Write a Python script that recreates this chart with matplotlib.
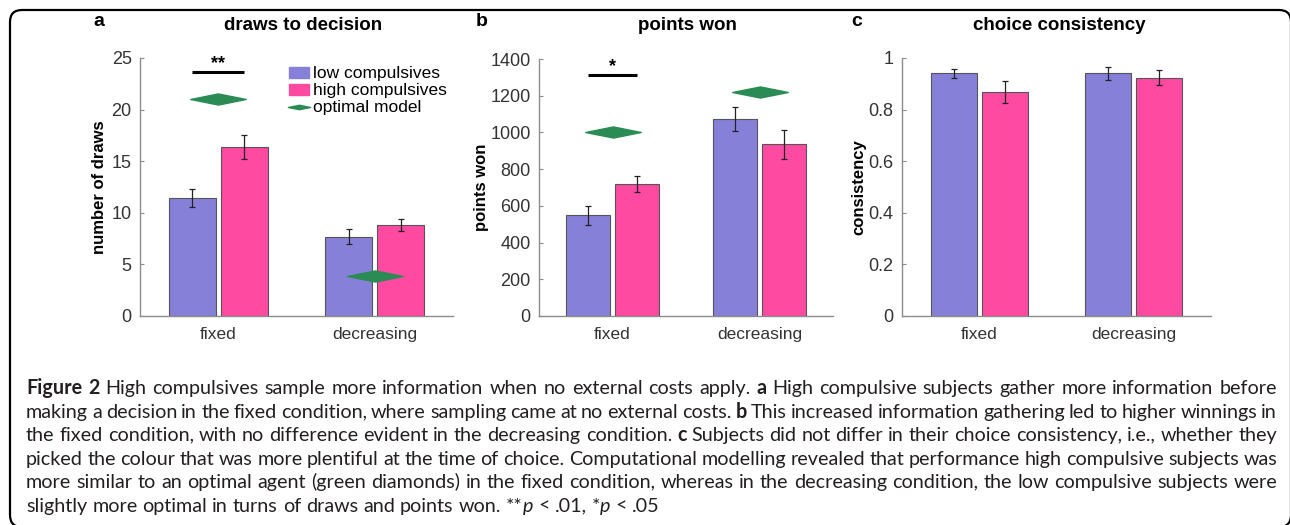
import numpy as np
import matplotlib
matplotlib.use("Agg")
import matplotlib.pyplot as plt
from matplotlib.patches import Patch, FancyBboxPatch
from matplotlib.lines import Line2D
from matplotlib.path import Path
from matplotlib.transforms import IdentityTransform

plt.rcParams['font.family'] = ['Liberation Sans', 'DejaVu Sans']

# ---- data ----
conditions = ["fixed", "decreasing"]
groups = ["low compulsives", "high compulsives", "optimal model"]

draws_low = [11.4, 7.7]
draws_low_err = [0.88, 0.72]
draws_high = [16.4, 8.85]
draws_high_err = [1.15, 0.58]
draws_opt = [21.0, 3.9]

points_low = [548, 1073]
points_low_err = [50, 65]
points_high = [720, 935]
points_high_err = [43, 78]
points_opt = [1000, 1218]

consist_low = [0.94, 0.94]
consist_low_err = [0.019, 0.027]
consist_high = [0.868, 0.924]
consist_high_err = [0.044, 0.030]

c_low = "#8780d9"
c_high = "#ff4aa2"
c_opt = "#2a8b55"
c_axis = "#8c8c8c"

W, H = 1290, 525
fig = plt.figure(figsize=(W / 100, H / 100), dpi=100)


def px_axes(x0, x1, y0, y1):
    return fig.add_axes([x0 / W, 1 - y1 / H, (x1 - x0) / W, (y1 - y0) / H])


diamond = Path([(-1, 0), (0, 0.2), (1, 0), (0, -0.2), (-1, 0)],
               [Path.MOVETO, Path.LINETO, Path.LINETO, Path.LINETO, Path.CLOSEPOLY])


def panel(ax, low, low_err, high, high_err, ylim, yticks, yticklabels,
          ylabel, label_x, opt=None, sig=None):
    x = np.arange(1, len(conditions) + 1)
    off, bw = 0.165, 0.30
    ax.bar(x - off, low, bw, color=c_low, edgecolor="#555555", lw=0.8, zorder=2)
    ax.bar(x + off, high, bw, color=c_high, edgecolor="#555555", lw=0.8, zorder=2)
    for xx, v, e in ((x - off, low, low_err), (x + off, high, high_err)):
        ax.errorbar(xx, v, yerr=e, fmt="none", ecolor="#222222", elinewidth=0.9,
                    capsize=2, capthick=0.9, zorder=3)
    if opt is not None:
        ax.plot(x, opt, ls="none", marker=diamond, ms=40, color=c_opt,
                mec=c_opt, zorder=4)
    if sig is not None:
        yline, stars, ystar = sig
        ax.plot([x[0] - off, x[0] + off], [yline, yline], color="black", lw=2.2,
                solid_capstyle="butt", zorder=4)
        ax.text(x[0], ystar, stars, ha="center", va="center", fontsize=13,
                fontweight="bold")
    ax.set_xlim(0.5, 2.5)
    ax.set_ylim(*ylim)
    ax.set_yticks(yticks)
    ax.set_yticklabels(yticklabels)
    ax.set_xticks(x)
    ax.set_xticklabels(conditions)
    for s in ("top", "right"):
        ax.spines[s].set_visible(False)
    for s in ("left", "bottom"):
        ax.spines[s].set_color(c_axis)
        ax.spines[s].set_linewidth(1.0)
    ax.tick_params(axis="y", direction="in", length=3, color=c_axis,
                   labelcolor="#333333", labelsize=13, pad=6)
    ax.tick_params(axis="x", length=0, labelcolor="#333333", labelsize=12.5, pad=8)
    ax.set_ylabel(ylabel, fontsize=12, fontweight="bold")
    ax.yaxis.set_label_coords(label_x, 0.5)


# panel a
ax_a = px_axes(140, 453, 58, 316)
panel(ax_a, draws_low, draws_low_err, draws_high, draws_high_err, (0, 25),
      [0, 5, 10, 15, 20, 25], ["0", "5", "10", "15", "20", "25"],
      "number of draws", -0.105, opt=draws_opt, sig=(23.6, "**", 24.5))
handles = [Patch(facecolor=c_low, edgecolor=c_low),
           Patch(facecolor=c_high, edgecolor=c_high),
           Line2D([], [], ls="none", marker=diamond, ms=16, color=c_opt)]
ax_a.legend(handles, groups, loc="upper left", bbox_to_anchor=(0.475, 0.968),
            frameon=False, fontsize=12.5, handlelength=1.15, handleheight=0.6,
            handletextpad=0.25, labelspacing=0.12, borderpad=0, borderaxespad=0)

# panel b
ax_b = px_axes(539, 833, 59, 316)
panel(ax_b, points_low, points_low_err, points_high, points_high_err, (0, 1400),
      np.arange(0, 1401, 200), [str(v) for v in range(0, 1401, 200)],
      "points won", -0.17, opt=points_opt, sig=(1312, "*", 1360))

# panel c
ax_c = px_axes(902, 1211, 58, 316)
panel(ax_c, consist_low, consist_low_err, consist_high, consist_high_err, (0, 1),
      [0, 0.2, 0.4, 0.6, 0.8, 1], ["0", "0.2", "0.4", "0.6", "0.8", "1"],
      "consistency", -0.115)

# titles and panel letters
for xc, title in ((303, "draws to decision"), (687, "points won"), (1059, "choice consistency")):
    fig.text(xc / W, 1 - 25 / H, title, ha="center", va="center", fontsize=13.5,
             fontweight="bold")
for xc, letter in ((99, "a"), (482, "b"), (857, "c")):
    fig.text(xc / W, 1 - 21 / H, letter, ha="center", va="center", fontsize=14,
             fontweight="bold")

# frame
fig.add_artist(FancyBboxPatch((10, -2), 1281, 517,
                              boxstyle="round,pad=0,rounding_size=12",
                              transform=IdentityTransform(), fill=False,
                              edgecolor="black", lw=1.6, clip_on=False))

# caption, justified word by word
cap_font = ['Lato', 'DejaVu Sans']
cap_size = 14.2
cap_color = "#231f20"
caption = [
    [("Figure 2", "bold"), (" High compulsives sample more information when no external costs apply. ", "normal"),
     ("a", "bold"), (" High compulsive subjects gather more information before", "normal")],
    [("making a decision in the fixed condition, where sampling came at no external costs. ", "normal"),
     ("b", "bold"), (" This increased information gathering led to higher winnings in", "normal")],
    [("the fixed condition, with no difference evident in the decreasing condition. ", "normal"),
     ("c", "bold"), (" Subjects did not differ in their choice consistency, i.e., whether they", "normal")],
    [("picked the colour that was more plentiful at the time of choice. Computational modelling "
      "revealed that performance high compulsive subjects was", "normal")],
    [("more similar to an optimal agent (green diamonds) in the fixed condition, whereas in the "
      "decreasing condition, the low compulsive subjects were", "normal")],
    [("slightly more optimal in turns of draws and points won. **", "normal"), ("p", "italic"),
     (" < .01, *", "normal"), ("p", "italic"), (" < .05", "normal")],
]

renderer = fig.canvas.get_renderer()


def make_text(s, style):
    kw = dict(family=cap_font, fontsize=cap_size, color=cap_color, va="baseline", ha="left")
    if style == "bold":
        kw["fontweight"] = "bold"
    if style == "italic":
        kw["fontstyle"] = "italic"
    return fig.text(0, 0, s, **kw)


def width(t):
    return t.get_window_extent(renderer).width


def descent_frac(t):
    d = renderer.get_text_width_height_descent(t.get_text(), t.get_fontproperties(), ismath=False)[2]
    return d - np.floor(d)


t1 = make_text("x x", "normal")
t2 = make_text("xx", "normal")
space_w = width(t1) - width(t2)
t1.remove()
t2.remove()

x_left, x_right = 26, 1277
for k, segs in enumerate(caption):
    words = [[]]
    for txt, st in segs:
        parts = txt.split(" ")
        for j, p in enumerate(parts):
            if j > 0:
                words.append([])
            if p:
                words[-1].append((p, st))
    words = [w for w in words if w]
    objs = [[make_text(p, st) for p, st in w] for w in words]
    widths = [sum(width(t) for t in w) for w in objs]
    justify = k < len(caption) - 1
    gap = (x_right - x_left - sum(widths)) / (len(words) - 1) if justify else space_w
    y = round(394 + 23.6 * k)
    x = x_left
    for w, ww in zip(objs, widths):
        xx = x
        for t in w:
            # keep agg's rounding of the glyph bitmap from nudging words off the baseline
            ydisp = H - y + descent_frac(t) - 0.001
            t.set_position((xx / W, ydisp / H))
            xx += width(t)
        x += ww + gap

fig.savefig("out.png", dpi=100)
